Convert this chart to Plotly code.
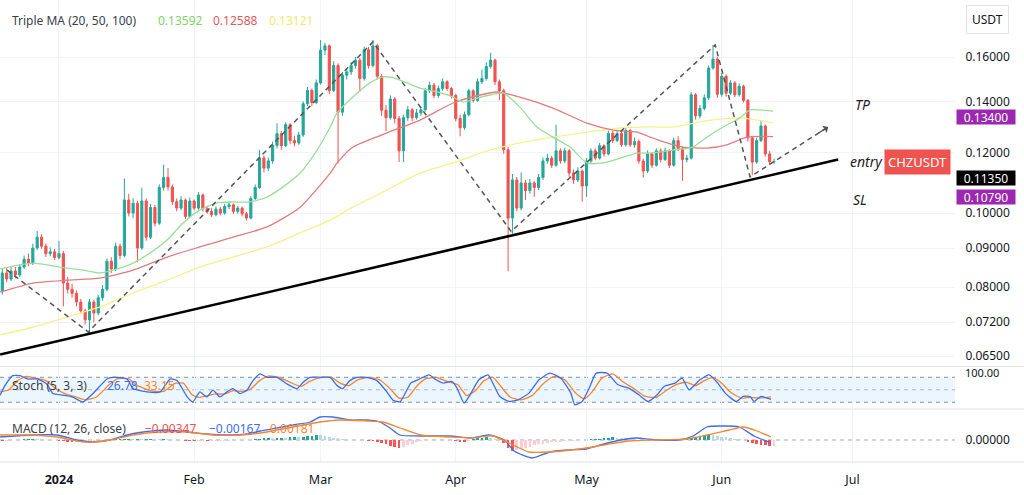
import math
import numpy as np
import pandas as pd
import plotly.graph_objects as go
from plotly.subplots import make_subplots

# ---------------- data ----------------
BASE = pd.Timestamp("2024-01-01")
first_day = "2023-12-19"
first_open = 0.0790

closes = [
    0.0835, 0.0820, 0.0840, 0.0830, 0.0850, 0.0870, 0.0860, 0.0900, 0.0930, 0.0905,
    0.0885, 0.0890, 0.0875, 0.0885,
    0.0810, 0.0795, 0.0785, 0.0765, 0.0745, 0.0725, 0.0765, 0.0740, 0.0775, 0.0795,
    0.0865, 0.0845, 0.0905, 0.0880, 0.1040, 0.1000, 0.1030, 0.0900, 0.1037, 0.0930,
    0.1017, 0.0970, 0.1080, 0.1113, 0.1082, 0.1035, 0.1015, 0.1040, 0.0990, 0.1037,
    0.1015, 0.1056, 0.1013, 0.1005, 0.0995, 0.1012, 0.1000, 0.1020, 0.1025, 0.1005,
    0.1015, 0.0998, 0.0985, 0.1045, 0.1080, 0.1180, 0.1145, 0.1170, 0.1226, 0.1270,
    0.1225, 0.1305, 0.1244, 0.1235, 0.1265, 0.1390, 0.1447, 0.1395, 0.1480, 0.1634,
    0.1655, 0.1446, 0.1560, 0.1355, 0.1515, 0.1530, 0.1560, 0.1585, 0.1500, 0.1635,
    0.1560, 0.1655, 0.1510, 0.1363, 0.1333, 0.1410, 0.1330, 0.1206, 0.1333, 0.1365,
    0.1333, 0.1352, 0.1365, 0.1445, 0.1470, 0.1425, 0.1455, 0.1485, 0.1455, 0.1425,
    0.1330, 0.1293, 0.1345, 0.1445, 0.1404, 0.1485, 0.1500, 0.1555, 0.1585, 0.1485,
    0.1445, 0.1210, 0.0985, 0.1105, 0.1015, 0.1095, 0.1070, 0.1095, 0.1080, 0.1113,
    0.1170, 0.1180, 0.1155, 0.1206, 0.1170, 0.1206, 0.1128, 0.1105, 0.1135, 0.1085,
    0.1170, 0.1206, 0.1180, 0.1225, 0.1195, 0.1271, 0.1244, 0.1271, 0.1228, 0.1282,
    0.1228, 0.1240, 0.1170, 0.1135, 0.1195, 0.1155, 0.1206, 0.1175, 0.1206, 0.1155,
    0.1244, 0.1215, 0.1175, 0.1180, 0.1428, 0.1340, 0.1370, 0.1415, 0.1548, 0.1590,
    0.1430, 0.1510, 0.1435, 0.1480, 0.1428, 0.1465, 0.1404, 0.1254, 0.1166, 0.1244,
    0.1300, 0.1195, 0.1167, 0.1168,
]
highs = [
    0.0845, 0.0848, 0.0852, 0.0850, 0.0858, 0.0880, 0.0885, 0.0912, 0.0947, 0.0938,
    0.0912, 0.0902, 0.0898, 0.0920,
    0.0892, 0.0825, 0.0808, 0.0792, 0.0772, 0.0750, 0.0772, 0.0770, 0.0782, 0.0805,
    0.0872, 0.0875, 0.0915, 0.0912, 0.1110, 0.1060, 0.1045, 0.1038, 0.1079, 0.1045,
    0.1028, 0.1025, 0.1090, 0.1157, 0.1145, 0.1090, 0.1045, 0.1052, 0.1045, 0.1048,
    0.1042, 0.1065, 0.1060, 0.1022, 0.1015, 0.1020, 0.1018, 0.1028, 0.1035, 0.1030,
    0.1022, 0.1020, 0.1003, 0.1052, 0.1090, 0.1210, 0.1190, 0.1182, 0.1240, 0.1310,
    0.1280, 0.1315, 0.1310, 0.1262, 0.1278, 0.1400, 0.1462, 0.1455, 0.1495, 0.1684,
    0.1670, 0.1662, 0.1580, 0.1570, 0.1530, 0.1545, 0.1575, 0.1600, 0.1595, 0.1650,
    0.1650, 0.1684, 0.1665, 0.1520, 0.1385, 0.1425, 0.1418, 0.1340, 0.1345, 0.1380,
    0.1372, 0.1368, 0.1378, 0.1458, 0.1485, 0.1480, 0.1468, 0.1500, 0.1492, 0.1462,
    0.1432, 0.1345, 0.1358, 0.1455, 0.1452, 0.1500, 0.1540, 0.1575, 0.1620, 0.1592,
    0.1495, 0.1455, 0.1220, 0.1125, 0.1115, 0.1130, 0.1105, 0.1108, 0.1102, 0.1125,
    0.1182, 0.1195, 0.1188, 0.1305, 0.1215, 0.1218, 0.1212, 0.1140, 0.1148, 0.1140,
    0.1180, 0.1215, 0.1215, 0.1235, 0.1230, 0.1282, 0.1280, 0.1285, 0.1278, 0.1292,
    0.1288, 0.1255, 0.1248, 0.1178, 0.1208, 0.1200, 0.1215, 0.1215, 0.1218, 0.1212,
    0.1255, 0.1260, 0.1222, 0.1192, 0.1440, 0.1435, 0.1385, 0.1430, 0.1560, 0.1659,
    0.1600, 0.1525, 0.1518, 0.1492, 0.1488, 0.1478, 0.1472, 0.1410, 0.1262, 0.1255,
    0.1322, 0.1305, 0.1205, 0.1178,
]
lows = [
    0.0782, 0.0812, 0.0815, 0.0822, 0.0825, 0.0845, 0.0852, 0.0855, 0.0895, 0.0898,
    0.0876, 0.0878, 0.0868, 0.0870,
    0.0755, 0.0785, 0.0775, 0.0755, 0.0738, 0.0715, 0.0697, 0.0720, 0.0735, 0.0768,
    0.0790, 0.0835, 0.0840, 0.0870, 0.0875, 0.0990, 0.0985, 0.0862, 0.0895, 0.0920,
    0.0925, 0.0960, 0.0965, 0.1070, 0.1070, 0.1025, 0.1005, 0.1008, 0.0982, 0.0985,
    0.1008, 0.1010, 0.1005, 0.0998, 0.0988, 0.0990, 0.0993, 0.0995, 0.1012, 0.0998,
    0.0998, 0.0990, 0.0978, 0.0982, 0.1040, 0.1075, 0.1130, 0.1135, 0.1160, 0.1215,
    0.1210, 0.1220, 0.1230, 0.1222, 0.1228, 0.1258, 0.1380, 0.1380, 0.1388, 0.1472,
    0.1610, 0.1430, 0.1440, 0.1162, 0.1340, 0.1495, 0.1515, 0.1545, 0.1440, 0.1490,
    0.1545, 0.1550, 0.1495, 0.1340, 0.1280, 0.1325, 0.1310, 0.1166, 0.1166, 0.1320,
    0.1318, 0.1325, 0.1340, 0.1358, 0.1435, 0.1412, 0.1415, 0.1445, 0.1445, 0.1412,
    0.1318, 0.1260, 0.1285, 0.1338, 0.1395, 0.1398, 0.1475, 0.1490, 0.1545, 0.1470,
    0.1404, 0.1195, 0.0839, 0.0940, 0.1005, 0.1008, 0.1040, 0.1060, 0.1050, 0.1072,
    0.1105, 0.1160, 0.1145, 0.1150, 0.1160, 0.1162, 0.1115, 0.1092, 0.1098, 0.1035,
    0.1050, 0.1162, 0.1172, 0.1175, 0.1185, 0.1190, 0.1235, 0.1238, 0.1220, 0.1222,
    0.1220, 0.1218, 0.1160, 0.1113, 0.1128, 0.1145, 0.1150, 0.1165, 0.1170, 0.1145,
    0.1150, 0.1205, 0.1102, 0.1165, 0.1175, 0.1325, 0.1330, 0.1362, 0.1405, 0.1540,
    0.1415, 0.1420, 0.1420, 0.1428, 0.1418, 0.1420, 0.1395, 0.1240, 0.1121, 0.1160,
    0.1238, 0.1185, 0.1155, 0.1160,
]

# moving averages (days counted from 2024-01-01)
ma20_days = [-13.5, -6, 0.2, 5.5, 9.4, 12.4, 17, 20.9, 24.8, 28.4, 32.3, 36.2, 39.9, 43.8, 47.7, 51.4,
             55.3, 59.2, 62.2, 63.8, 67.4, 71.3, 74.1, 76.6, 79.8, 82.8, 86.7, 90.4, 92.7, 95.9, 98.9,
             101.8, 105.7, 109.6, 113.3, 117.2, 121.1, 124.8, 128.7, 132.6, 135.6, 140.8, 145.4, 148.6,
             152.3, 156.2, 158.5, 163.8]
ma20_vals = [0.0845, 0.0860, 0.0850, 0.0842, 0.0835, 0.0842, 0.0860, 0.0887, 0.0922, 0.0970, 0.1009,
             0.1031, 0.1034, 0.1034, 0.1049, 0.1082, 0.1128, 0.1209, 0.1296, 0.1352, 0.1418, 0.1480,
             0.1506, 0.1504, 0.1480, 0.1457, 0.1440, 0.1418, 0.1397, 0.1414, 0.1427, 0.1436, 0.1376,
             0.1296, 0.1257, 0.1220, 0.1163, 0.1163, 0.1180, 0.1198, 0.1198, 0.1209, 0.1220, 0.1257,
             0.1296, 0.1332, 0.1364, 0.1359]
ma50_days = [-13.5, -6, 1.8, 9.4, 17, 24.8, 32.3, 39.9, 47.7, 55.3, 62.2, 63.8, 67.4, 75.2, 82.8, 90.4,
             96.6, 100.5, 105.7, 113.3, 121.1, 127.1, 132.6, 135.6, 137.8, 143.1, 148.6, 153.2, 157.8, 163.8]
ma50_vals = [0.0788, 0.0810, 0.0817, 0.0822, 0.0842, 0.0876, 0.0903, 0.0930, 0.0959, 0.1018, 0.1128,
             0.1163, 0.1220, 0.1273, 0.1323, 0.1393, 0.1427, 0.1440, 0.1418, 0.1372, 0.1311, 0.1284,
             0.1276, 0.1257, 0.1244, 0.1220, 0.1216, 0.1228, 0.1257, 0.1259]
ma100_days = [-13.5, -6, 1.8, 9.4, 17, 24.8, 32.3, 39.9, 47.7, 55.3, 62.2, 67.4, 75.2, 82.8, 90.4, 98.2,
              105.7, 113.3, 121.1, 128.7, 135.6, 140.8, 148.6, 156.2, 163.8]
ma100_vals = [0.0693, 0.0709, 0.0731, 0.0754, 0.0786, 0.0817, 0.0850, 0.0876, 0.0903, 0.0942, 0.0979,
              0.1018, 0.1072, 0.1128, 0.1163, 0.1206, 0.1235, 0.1257, 0.1276, 0.1292, 0.1296, 0.1296,
              0.1321, 0.1332, 0.1312]

# stochastic (5,3,3)
stk_days = [-13.5, -12.4, -10.6, -8.9, -7.3, -5, -2.8, -1.4, 0.9, 3, 5.5, 7.8, 11, 12.4, 15.6, 17, 20.2,
            23.2, 25.5, 27.1, 29.4, 30.7, 32.3, 33.9, 35.3, 36.9, 38.5, 39.9, 41.5, 43.1, 44.5, 46.1,
            47.7, 50, 52.3, 54.6, 56, 57.6, 59.9, 62.2, 63.8, 65.1, 66.7, 68.3, 70.6, 72.9, 75.2, 76.6,
            78.2, 80.7, 82.3, 84.9, 86.5, 88.1, 90.1, 91.3, 92.9, 94.5, 96.3, 98.4, 99.5, 101.1, 103.2,
            105.3, 107.8, 110.1, 112.6, 115.1, 117.4, 118.3, 120, 121.6, 123.2, 125.7, 128.2, 130.7,
            133, 135.1, 137.2, 138.8, 141.3, 142.9, 144.5, 147, 149.1, 151.1, 152.8, 155.3, 156.9,
            158.5, 159.4, 161, 163.3]
stk_vals = [37, 60, 84, 84, 76, 76, 64, 41, 37, 33, 21, 41, 76, 80, 76, 53, 45, 45, 76, 72, 33, 21, 45,
            33, 49, 33, 45, 53, 41, 49, 72, 88, 80, 80, 64, 53, 68, 80, 80, 80, 60, 53, 72, 80, 80, 72,
            45, 25, 21, 66, 74, 86, 74, 66, 70, 54, 18, 42, 74, 86, 66, 34, 22, 26, 42, 74, 90, 78, 42,
            14, 22, 54, 90, 90, 62, 54, 38, 22, 38, 58, 66, 78, 50, 74, 86, 66, 42, 22, 34, 34, 22, 34,
            26.78]
std_days = [-13.5, -11.5, -9.5, -7.5, -5.5, -3, -1, 1.5, 3.5, 6, 8.5, 11.5, 13.5, 16, 18, 21, 24, 26.5,
            28.5, 30.5, 32, 34, 36, 38, 40, 42, 44, 46, 48, 50.5, 53, 55.5, 57.5, 60, 62.5, 64.5, 66.5,
            68.5, 71, 73.5, 76, 78, 80, 82, 84, 86.5, 89, 91.5, 93.5, 95.5, 97.5, 99.5, 101.5, 103.5,
            106, 108.5, 111, 113.5, 116, 118.5, 120.5, 122.5, 124.5, 127, 129.5, 132, 134.5, 137,
            139.5, 142, 144, 146, 148, 150, 152, 154, 156.5, 158.5, 160.5, 163.3]
std_vals = [45, 50, 72, 82, 78, 72, 55, 40, 34, 26, 32, 62, 77, 76, 60, 48, 46, 65, 66, 38, 32, 36, 40,
            40, 48, 46, 52, 72, 83, 80, 68, 58, 70, 79, 80, 66, 60, 74, 80, 74, 52, 30, 32, 58, 76, 80,
            70, 62, 36, 48, 72, 80, 56, 32, 26, 36, 64, 82, 74, 42, 28, 48, 78, 88, 68, 52, 34, 32, 50,
            64, 68, 60, 72, 80, 66, 44, 30, 32, 30, 33.15]

# MACD (12, 26, close)
macd_days = [-13.5, -6, -0.5, 4.1, 7.8, 11.7, 15.6, 19.3, 24.8, 29.4, 33.9, 38.5, 43.1, 46.1, 50, 53.7,
             57.6, 59.9, 62.8, 66.7, 70.6, 73.6, 75.9, 78.2, 83, 89.7, 94.5, 98.6, 102.1, 104.4, 108.5,
             112.6, 116.7, 120.9, 125, 128.9, 132.3, 137.2, 142.2, 145.4, 148.6, 151.8, 156, 159.4, 163.3]
macd_vals = [0.0018, 0.0030, 0.0030, 0.0000, -0.0012, 0.0000, 0.0030, 0.0048, 0.0060, 0.0048, 0.0036,
             0.0030, 0.0036, 0.0054, 0.0072, 0.0090, 0.0108, 0.0138, 0.0138, 0.0120, 0.0120, 0.0108,
             0.0072, 0.0030, 0.0024, 0.0024, 0.0012, 0.0030, 0.0000, -0.0066, -0.0108, -0.0072, -0.0060,
             -0.0054, -0.0024, 0.0000, 0.0012, 0.0000, 0.0000, 0.0024, 0.0078, 0.0084, 0.0078, 0.0024,
             -0.00167]
sig_days = [-13.5, -7.3, -0.5, 5.5, 11.7, 17, 23.2, 29.4, 35.3, 41.5, 47.7, 53.7, 59.9, 64.4, 70.6, 74.3,
            78.2, 83, 89.7, 94.5, 99.5, 103.7, 107.8, 112.6, 119.3, 125, 130.7, 137.2, 143.8, 148.6,
            153.7, 156.9, 160.1, 163.3]
sig_vals = [0.0030, 0.0030, 0.0018, -0.0012, 0.0000, 0.0030, 0.0048, 0.0048, 0.0030, 0.0030, 0.0048,
            0.0078, 0.0108, 0.0120, 0.0114, 0.0108, 0.0072, 0.0030, 0.0018, 0.0012, 0.0024, -0.0024,
            -0.0072, -0.0072, -0.0054, -0.0030, -0.0006, 0.0000, 0.0006, 0.0030, 0.0060, 0.0078, 0.0054,
            0.00181]
hist_vals = [
    -0.0003, -0.0003, -0.0002, 0.0000, 0.0002,
    0.0004, 0.0006, 0.0006, 0.0004, 0.0003,
    0.0002, 0.0001, -0.0002, -0.0004,
    -0.0008, -0.0010, -0.0012, -0.0010, -0.0008,
    -0.0006, -0.0004, -0.0003, -0.0002, 0.0001, 0.0003, 0.0005,
    0.0006, 0.0006, 0.0008, 0.0008, 0.0007, 0.0008, 0.0006, 0.0007, 0.0008, 0.0006, 0.0005, 0.0006, 0.0004, 0.0002,
    0.0001, -0.0002, -0.0004, -0.0005, -0.0006, -0.0006, -0.0005, -0.0006, -0.0005, -0.0004, -0.0004, -0.0003,
    -0.0003, -0.0002, -0.0002, -0.0001, 0.0000, 0.0003,
    0.0006, 0.0009, 0.0010, 0.0012, 0.0011, 0.0013, 0.0015, 0.0014, 0.0016, 0.0018, 0.0017, 0.0020, 0.0024,
    0.0026, 0.0030, 0.0028,
    0.0022, 0.0018, 0.0012, 0.0010, 0.0006, 0.0004, 0.0002,
    0.0002, 0.0001, -0.0002, -0.0003,
    -0.0006, -0.0012, -0.0018, -0.0026, -0.0034, -0.0042, -0.0046,
    -0.0040, -0.0032, -0.0024, -0.0014, -0.0008,
    -0.0004, -0.0002, 0.0001, 0.0002, 0.0003, 0.0002, 0.0001, -0.0003,
    -0.0010, -0.0012, -0.0004,
    0.0006, 0.0010, 0.0014, 0.0016, 0.0012, 0.0008, 0.0004,
    -0.0018, -0.0048, -0.0066, -0.0060,
    -0.0052, -0.0046, -0.0040, -0.0032, -0.0026, -0.0022, -0.0018, -0.0014, -0.0012, -0.0010, -0.0008,
    -0.0006, -0.0004, -0.0003, -0.0002, -0.0001,
    0.0004, 0.0006, 0.0008, 0.0012, 0.0014, 0.0016, 0.0014, 0.0012, 0.0010, 0.0006,
    0.0003, 0.0002, 0.0001, 0.0000, -0.0002, -0.0002, 0.0000, 0.0001, 0.0002, 0.0001, 0.0002, 0.0004, 0.0006,
    0.0012, 0.0020, 0.0026, 0.0030, 0.0032, 0.0028,
    0.0024, 0.0020, 0.0016, 0.0012, 0.0008, 0.0004, 0.0001,
    -0.0012, -0.0020, -0.0026, -0.0030, -0.0032, -0.0035, -0.0035,
]

# drawings
zig_days = [-11.9, 6.7, 72.0, 103.7, 150.5, 158.5, 176.4]
zig_prices = [0.0842, 0.0699, 0.1674, 0.0946, 0.1659, 0.1115, 0.1296]
trend_days = [-13.5, 178.7]
trend_prices = [0.0653, 0.1175]
tp_level, entry_level, sl_level = 0.1340, 0.1135, 0.1079
entry_start_day = 165.4
last_price = closes[-1]

price_ticks = [0.16, 0.14, 0.12, 0.10, 0.09, 0.08, 0.072, 0.065]
month_ticks = ["2024-01-01", "2024-02-01", "2024-03-01", "2024-04-01", "2024-05-01", "2024-06-01", "2024-07-01"]
month_text = ["<b>2024</b>", "Feb", "Mar", "Apr", "May", "Jun", "Jul"]

ma_legend = ["0.13592", "0.12588", "0.13121"]
stoch_legend = ["26.78", "33.15"]
macd_legend = ["\u22120.00347", "\u22120.00167", "0.00181"]

# ---------------- styling ----------------
UP, DOWN = "#26a69a", "#ef5350"
PURPLE = "#9c27b0"
GRID = "#f0f3fa"
TXT = "#131722"
FONT = "Noto Sans"
W, H = 1024, 495
ML, MR, MT, MB = 0, 69, 0, 33
PW, PH = W - ML - MR, H - MT - MB


def day(d):
    return BASE + pd.to_timedelta(np.asarray(d, dtype=float), unit="D")


def pxx(p):
    return p / PW


def pxy(p):
    return (PH - p) / PH


dates = pd.date_range(first_day, periods=len(closes), freq="D")
opens = [first_open] + closes[:-1]

fig = make_subplots(rows=3, cols=1, shared_xaxes=True, vertical_spacing=0.0)

# price pane
fig.add_trace(go.Scatter(x=day(ma100_days), y=ma100_vals, mode="lines",
                         line=dict(color="#f4f28a", width=1.3, shape="spline", smoothing=0.6)), row=1, col=1)
fig.add_trace(go.Scatter(x=day(ma50_days), y=ma50_vals, mode="lines",
                         line=dict(color="#e57b7b", width=1.3, shape="spline", smoothing=0.6)), row=1, col=1)
fig.add_trace(go.Scatter(x=day(ma20_days), y=ma20_vals, mode="lines",
                         line=dict(color="#9ade9a", width=1.3, shape="spline", smoothing=0.6)), row=1, col=1)
fig.add_trace(go.Candlestick(
    x=dates, open=opens, high=highs, low=lows, close=closes,
    increasing=dict(line=dict(color=UP, width=1), fillcolor=UP),
    decreasing=dict(line=dict(color=DOWN, width=1), fillcolor=DOWN),
    whiskerwidth=0), row=1, col=1)
fig.add_trace(go.Scatter(x=day(zig_days), y=zig_prices, mode="lines",
                         line=dict(color="#555555", width=1.5, dash="5px,4px")), row=1, col=1)
fig.add_trace(go.Scatter(x=day(trend_days), y=trend_prices, mode="lines",
                         line=dict(color="#000000", width=2.6)), row=1, col=1)

# stochastic pane
fig.add_trace(go.Scatter(x=day(std_days), y=std_vals, mode="lines",
                         line=dict(color="#f7862e", width=1.3, shape="spline", smoothing=0.5)), row=2, col=1)
fig.add_trace(go.Scatter(x=day(stk_days), y=stk_vals, mode="lines",
                         line=dict(color="#3d6df0", width=1.3, shape="spline", smoothing=0.5)), row=2, col=1)

# MACD pane
hcolors = []
prev = 0.0
for h in hist_vals:
    if h >= 0:
        hcolors.append("#26a69a" if h >= prev else "#b2dfdb")
    else:
        hcolors.append("#ff5252" if h < prev else "#ffcdd2")
    prev = h
fig.add_trace(go.Bar(x=dates, y=hist_vals, marker=dict(color=hcolors, line=dict(width=0)),
                     width=0.62 * 86400000), row=3, col=1)
fig.add_trace(go.Scatter(x=day(macd_days), y=macd_vals, mode="lines",
                         line=dict(color="#3d6df0", width=1.3, shape="spline", smoothing=0.6)), row=3, col=1)
fig.add_trace(go.Scatter(x=day(sig_days), y=sig_vals, mode="lines",
                         line=dict(color="#f7862e", width=1.3, shape="spline", smoothing=0.6)), row=3, col=1)

x0 = day(-13.53)
x1 = day(205.5)
lg = math.log10

fig.update_layout(
    width=W, height=H, margin=dict(l=ML, r=MR, t=MT, b=MB),
    paper_bgcolor="white", plot_bgcolor="white", showlegend=False,
    font=dict(family=FONT, size=12, color=TXT), bargap=0, hovermode=False,
)
fig.update_xaxes(range=[x0, x1], tickvals=month_ticks, ticktext=month_text, showgrid=True,
                 gridcolor=GRID, gridwidth=1, zeroline=False, showline=False,
                 rangeslider_visible=False, ticks="outside", ticklen=6, tickcolor="rgba(0,0,0,0)",
                 tickfont=dict(size=12.5, color=TXT))
fig.update_layout(
    yaxis=dict(domain=[pxy(366), 1.0], type="log", range=[lg(0.06309), lg(0.18997)], side="right",
               tickvals=price_ticks, ticktext=[f"{v:.5f}" for v in price_ticks], showgrid=True,
               gridcolor=GRID, zeroline=False, ticks="outside", ticklen=7, tickcolor="rgba(0,0,0,0)"),
    yaxis2=dict(domain=[pxy(408), pxy(367)], range=[6.3, 104.7], side="right", tickvals=[100],
                showticklabels=False, showgrid=False, zeroline=False),
    yaxis3=dict(domain=[0.0, pxy(410)], range=[-0.0132, 0.018], side="right", tickvals=[0],
                ticktext=["0.00000"], showgrid=False, zeroline=False, ticks="outside", ticklen=7,
                tickcolor="rgba(0,0,0,0)"),
)

shapes = []
# stoch band and levels
shapes.append(dict(type="rect", xref="x2 domain", x0=0, x1=1, yref="y2", y0=20, y1=80,
                   fillcolor="rgba(33,150,243,0.09)", line=dict(width=0), layer="below"))
for lv, col in [(80, "#8a8e99"), (50, "#b5b8c0"), (20, "#8a8e99")]:
    shapes.append(dict(type="line", xref="x2 domain", x0=0, x1=1, yref="y2", y0=lv, y1=lv,
                       line=dict(color=col, width=1, dash="4px,4px"), layer="below"))
shapes.append(dict(type="line", xref="x3 domain", x0=0, x1=1, yref="y3", y0=0, y1=0,
                   line=dict(color="#a3a6ae", width=1, dash="4px,4px"), layer="below"))
# pane separators
for py in [366.5, 409, PH]:
    shapes.append(dict(type="line", xref="paper", x0=0, x1=W / PW, yref="paper", y0=pxy(py), y1=pxy(py),
                       line=dict(color="#e0e3eb", width=1)))
# price levels
shapes.append(dict(type="line", xref="x domain", x0=0, x1=1, yref="y", y0=lg(last_price), y1=lg(last_price),
                   line=dict(color="rgba(239,83,80,0.55)", width=1, dash="dot")))
for lv in [tp_level, sl_level]:
    shapes.append(dict(type="line", xref="x domain", x0=0, x1=1, yref="y", y0=lg(lv), y1=lg(lv),
                       line=dict(color=PURPLE, width=3)))
shapes.append(dict(type="line", xref="x", x0=day(entry_start_day), x1=x1, yref="y",
                   y0=lg(entry_level), y1=lg(entry_level), line=dict(color="#000000", width=2.6)))
fig.update_layout(shapes=shapes)

ann = []


def txt(x, y, s, color=TXT, size=12, **kw):
    ann.append(dict(xref="paper", yref="paper", x=x, y=y, text=s, showarrow=False, xanchor="left",
                    yanchor="middle", font=dict(family=FONT, size=size, color=color), **kw))


# legends
txt(pxx(10), pxy(21), "Triple MA (20, 50, 100)", color="#3a3e4a")
for s, c, px in zip(ma_legend, ["#7fd36b", "#e05a5a", "#eceb6a"], [156, 211, 267]):
    txt(pxx(px), pxy(21), s, color=c)
txt(pxx(10), pxy(385), "Stoch (5, 3, 3)", color="#3a3e4a")
for s, c, px in zip(stoch_legend, ["#3d6df0", "#f7862e"], [105, 142]):
    txt(pxx(px), pxy(385), s, color=c)
txt(pxx(10), pxy(428), "MACD (12, 26, close)", color="#3a3e4a")
for s, c, px in zip(macd_legend, ["#ef5350", "#3d6df0", "#f7862e"], [143, 207, 268]):
    txt(pxx(px), pxy(428), s, color=c)

# stoch scale label (clipped at the pane top in the reference)
txt(pxx(963), pxy(372), "100.00", size=11)

# drawing labels
for s, px, py in [("<i>TP</i>", 862, 104), ("<i>entry</i>", 866, 161), ("<i>SL</i>", 860, 199)]:
    ann.append(dict(xref="paper", yref="paper", x=pxx(px), y=pxy(py), text=s, showarrow=False,
                    xanchor="center", yanchor="middle", font=dict(family=FONT, size=14, color="#1e1e1e")))
ann.append(dict(xref="paper", yref="y", x=pxx(917), y=lg(last_price), text="CHZUSDT", showarrow=False,
                xanchor="center", yanchor="middle", bgcolor=DOWN, borderpad=3,
                font=dict(family=FONT, size=13, color="white")))

# price-scale labels
for s, lv, bg, ys in [("0.13400", tp_level, PURPLE, -1), ("0.11350", entry_level, "#000000", -7),
                      ("0.10790", sl_level, PURPLE, -9)]:
    ann.append(dict(xref="paper", yref="y", x=pxx(986), y=lg(lv), yshift=ys, text=s, showarrow=False,
                    xanchor="center", yanchor="middle", bgcolor=bg, width=58, height=14, borderpad=0,
                    font=dict(family=FONT, size=12, color="white")))
ann.append(dict(xref="paper", yref="paper", x=pxx(987), y=pxy(20), text="USDT", showarrow=False,
                xanchor="center", yanchor="middle", bgcolor="white", bordercolor="#e0e3eb", borderwidth=1,
                borderpad=5, font=dict(family=FONT, size=12, color=TXT)))

# arrow head of the dashed projection
ann.append(dict(xref="x", yref="y", x=day(zig_days[-1:])[0], y=lg(zig_prices[-1]), ax=-11, ay=7,
                text="", showarrow=True, arrowhead=1, arrowsize=1, arrowwidth=1.4, arrowcolor="#555555"))
fig.update_layout(annotations=ann)

pin = ("document.documentElement.style.margin='0px';document.body.style.margin='0px';"
       "document.body.style.padding='0px';var gd=document.getElementById('{plot_id}');"
       "gd.style.position='fixed';gd.style.left='0px';gd.style.top='0px';")
fig.write_html("out.html", post_script=pin, config={"displayModeBar": False, "staticPlot": True})
